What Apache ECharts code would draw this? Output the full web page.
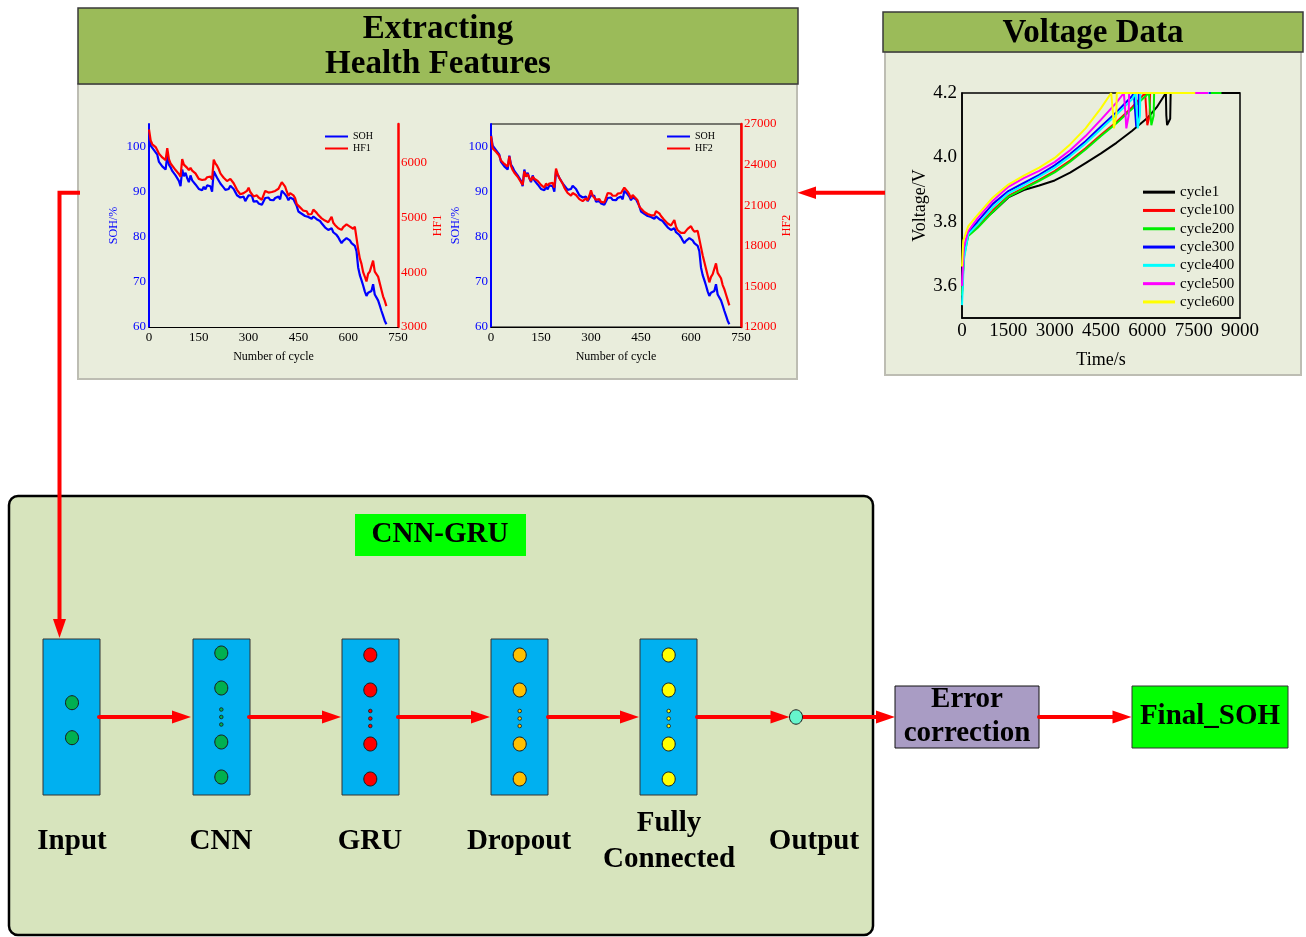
<!DOCTYPE html>
<html>
<head>
<meta charset="utf-8">
<script src="https://cdn.jsdelivr.net/npm/echarts/dist/echarts.min.js"></script>
<style>
html,body{margin:0;padding:0;background:#ffffff;}
#chart{width:1306px;height:937px;}
</style>
</head>
<body>
<div id="chart"></div>
<script>
// ---- cycle-ageing data (one sample every 5 cycles) ----
const cycleStep = 5;
const sohValues = [
  102.5,100.2,99.8,99.2,99.4,98.2,96.6,96.2,95.6,95.9,
  94.9,98.0,96.0,95.4,94.6,94.2,93.6,93.2,92.4,91.2,
  94.9,93.4,94.2,93.0,92.1,93.6,92.5,92.3,91.6,91.9,
  90.6,90.9,90.3,91.1,90.5,91.4,91.6,91.2,90.0,94.5,
  94.2,93.1,92.9,91.8,91.4,90.9,90.4,90.2,90.6,91.3,
  91.0,90.6,89.9,89.2,89.5,88.7,88.4,88.9,87.9,88.3,
  89.2,88.9,89.1,87.8,87.6,87.9,87.4,87.7,87.1,87.5,
  88.6,88.4,88.7,88.2,88.5,88.1,88.6,88.4,88.9,88.3,
  90.2,89.8,89.4,88.9,88.1,88.7,88.6,88.3,88.0,86.8,
  85.6,85.9,85.1,85.4,84.6,84.9,84.4,84.6,84.0,84.5,
  84.6,83.9,83.6,83.5,83.0,82.6,82.1,81.9,81.5,81.6,
  81.9,81.0,80.6,80.4,79.9,79.2,78.6,79.1,79.5,79.7,
  79.7,79.2,78.6,78.2,78.0,76.8,73.2,71.5,70.4,69.2,
  67.9,66.9,67.6,67.8,68.0,69.5,67.2,66.8,65.9,64.8,
  63.6,62.5,61.4,60.6
];
const hf1Values = [
  6600,6400,6330,6310,6280,6220,6160,6130,6090,6110,
  6040,6260,6060,5980,5950,5900,5860,5830,5790,5740,
  6060,5960,5990,5900,5860,5900,5850,5830,5800,5810,
  5700,5720,5680,5710,5690,5730,5750,5740,5690,6050,
  5980,5940,5880,5800,5760,5720,5690,5660,5650,5700,
  5680,5620,5560,5500,5470,5420,5400,5440,5420,5480,
  5540,5460,5430,5380,5350,5400,5360,5380,5320,5300,
  5480,5470,5450,5430,5460,5440,5480,5470,5520,5500,
  5640,5600,5560,5470,5390,5440,5450,5400,5350,5240,
  5220,5180,5150,5120,5090,5110,5050,5080,5060,5140,
  5150,5080,5040,5010,4980,4950,4940,4930,4910,4960,
  5010,4900,4860,4830,4800,4790,4770,4820,4840,4870,
  4880,4830,4810,4790,4830,4800,4420,4250,4150,4000,
  3920,3830,3970,4010,4020,4210,4010,4000,3920,3800,
  3680,3560,3480,3380
];
const hf2Values = [
  26100,25200,25100,24950,24850,24650,24300,24200,24050,24100,
  23850,24600,23900,23600,23400,23300,23100,22900,22700,22500,
  23500,23100,23300,23000,22800,23100,22950,22900,22800,22850,
  22500,22600,22300,22600,22450,22600,22700,22650,22300,23700,
  23300,23000,22900,22600,22300,22100,21900,21800,21700,21900,
  21850,21750,21600,21450,21400,21300,21250,21500,21350,21700,
  22100,21700,21600,21400,21300,21450,21250,21350,21200,21150,
  21900,21800,21850,21700,21800,21700,21850,21800,21900,21850,
  22300,22350,22000,21800,21500,21750,21700,21500,21350,20900,
  20750,20700,20500,20450,20350,20400,20250,20300,20250,20550,
  20650,20400,20200,20050,19900,19800,19650,19550,19500,19700,
  19900,19400,19150,19050,18950,18900,18950,19100,19250,19350,
  19450,19200,19050,18950,19100,19000,17900,17300,16800,16300,
  15800,15300,15700,15900,16000,16700,16000,15900,15600,15100,
  14800,14400,14000,13600
];

// ---- charging voltage curves, [time (s), voltage (V)] ----
const vCycle1 = [[0,3.58],[60,3.70],[200,3.76],[500,3.79],[1000,3.83],[1500,3.875],[2000,3.898],[2500,3.912],[3000,3.928],[3500,3.952],[4000,3.982],[4500,4.012],[5000,4.045],[5500,4.082],[6000,4.122],[6300,4.155],[6600,4.2],[6615,4.13],[6640,4.10],[6700,4.10],[6740,4.12],[6755,4.2],[9000,4.2]];
const vCycle100 = [[0,3.58],[60,3.70],[200,3.76],[500,3.785],[1000,3.835],[1500,3.88],[2000,3.905],[2500,3.93],[3000,3.957],[3500,3.99],[4000,4.028],[4500,4.07],[5000,4.11],[5500,4.155],[5930,4.2],[5960,4.2],[5975,4.13],[6000,4.10],[6050,4.10],[6075,4.13],[6090,4.2],[8300,4.2]];
const vCycle200 = [[0,3.57],[60,3.69],[200,3.755],[500,3.78],[1000,3.83],[1500,3.877],[2000,3.902],[2500,3.927],[3000,3.953],[3500,3.986],[4000,4.024],[4500,4.066],[5000,4.106],[5500,4.15],[6050,4.2],[6090,4.2],[6105,4.13],[6130,4.10],[6180,4.10],[6205,4.13],[6220,4.2],[8400,4.2]];
const vCycle300 = [[0,3.60],[60,3.71],[200,3.765],[500,3.80],[1000,3.855],[1500,3.895],[2000,3.92],[2500,3.945],[3000,3.975],[3500,4.01],[4000,4.05],[4500,4.096],[5000,4.14],[5500,4.19],[5560,4.2],[5600,4.2],[5615,4.13],[5640,4.095],[5690,4.095],[5710,4.13],[5725,4.2],[8050,4.2]];
const vCycle400 = [[0,3.54],[60,3.68],[200,3.76],[500,3.79],[1000,3.845],[1500,3.888],[2000,3.913],[2500,3.94],[3000,3.968],[3500,4.003],[4000,4.043],[4500,4.088],[5000,4.133],[5500,4.18],[5620,4.2],[5650,4.2],[5665,4.13],[5690,4.09],[5740,4.09],[5760,4.13],[5775,4.2],[8000,4.2]];
const vCycle500 = [[0,3.60],[60,3.72],[200,3.77],[500,3.81],[1000,3.865],[1500,3.908],[2000,3.935],[2500,3.958],[3000,3.985],[3500,4.022],[4000,4.066],[4500,4.117],[5000,4.17],[5240,4.2],[5280,4.2],[5295,4.13],[5320,4.09],[5370,4.09],[5395,4.13],[5410,4.2],[7980,4.2]];
const vCycle600 = [[0,3.66],[40,3.74],[200,3.785],[500,3.82],[1000,3.875],[1500,3.915],[2000,3.943],[2500,3.968],[3000,3.998],[3500,4.04],[4000,4.09],[4500,4.153],[4830,4.2],[4880,4.2],[4895,4.13],[4920,4.09],[4970,4.09],[4995,4.13],[5010,4.2],[7550,4.2]];
const voltageNames = ['cycle1','cycle100','cycle200','cycle300','cycle400','cycle500','cycle600'];
const voltageCurves = [vCycle1, vCycle100, vCycle200, vCycle300, vCycle400, vCycle500, vCycle600];
const voltageColors = ['#000000','#FF0000','#00EE00','#0000FF','#00FFFF','#FF00FF','#FFFF00'];

// network layer labels
const layerNames = ['Input', 'CNN', 'GRU', 'Dropout', 'Fully', 'Output'];

// ---------------------------------------------------------------
const SERIF = '"Liberation Serif","Times New Roman",serif';
const pairs = (vals) => vals.map((v, i) => [i * cycleStep, v]);
const plain = (v) => String(v);

function cycleXAxis(gridIndex) {
  return {
    type: 'value', gridIndex, min: 0, max: 750, interval: 150,
    name: 'Number of cycle', nameLocation: 'middle', nameGap: 24,
    nameTextStyle: { fontFamily: SERIF, fontSize: 12, color: '#000' },
    axisLine: { lineStyle: { color: '#000', width: 1 } },
    axisTick: { show: false },
    axisLabel: { fontFamily: SERIF, fontSize: 13, color: '#000', margin: 4, formatter: plain },
    splitLine: { show: false }
  };
}
function sohYAxis(gridIndex) {
  return {
    type: 'value', gridIndex, position: 'left', min: 60, max: 105, interval: 10,
    name: 'SOH/%', nameLocation: 'middle', nameGap: 29, nameRotate: 90,
    nameTextStyle: { fontFamily: SERIF, fontSize: 12, color: '#0000FF' },
    axisLine: { show: true, lineStyle: { color: '#0000FF', width: 2 } },
    axisTick: { show: false },
    axisLabel: { fontFamily: SERIF, fontSize: 13, color: '#0000FF', margin: 3, showMaxLabel: false, formatter: plain },
    splitLine: { show: false }
  };
}
function hfYAxis(gridIndex, name, min, max, interval, gap, showMax) {
  return {
    type: 'value', gridIndex, position: 'right', min, max, interval,
    name, nameLocation: 'middle', nameGap: gap, nameRotate: 90,
    nameTextStyle: { fontFamily: SERIF, fontSize: 12, color: '#FF0000' },
    axisLine: { show: true, lineStyle: { color: '#FF0000', width: 2.5 } },
    axisTick: { show: false },
    axisLabel: { fontFamily: SERIF, fontSize: 13, color: '#FF0000', margin: 3, showMaxLabel: showMax, formatter: plain },
    splitLine: { show: false }
  };
}

// ---- diagram helpers ----
const RED = '#FF0000';
function arrowRight(x1, x2, y) {
  return [
    { type: 'line', shape: { x1, y1: y, x2: x2 - 16, y2: y },
      style: { stroke: RED, lineWidth: 4, lineCap: 'round' }, z: 20 },
    { type: 'polygon', shape: { points: [[x2 - 19, y - 6.5], [x2, y], [x2 - 19, y + 6.5]] },
      style: { fill: RED }, z: 20 }
  ];
}
function text(x, y, str, size, extra) {
  return Object.assign({
    type: 'text', z: 30,
    style: { x, y, text: str, fill: '#000', textAlign: 'center', textVerticalAlign: 'middle',
      font: 'bold ' + size + 'px ' + SERIF }
  }, extra || {});
}
function layerBox(x, nodeYs, dotYs, fill, cx) {
  const els = [{ type: 'rect', shape: { x, y: 639, width: 57, height: 156 },
    style: { fill: '#00B0F0', stroke: '#333333', lineWidth: 1 }, z: 10 }];
  nodeYs.forEach(cy => els.push({ type: 'ellipse', shape: { cx, cy, rx: 6.5, ry: 7 },
    style: { fill, stroke: '#1a1a1a', lineWidth: 1 }, z: 11 }));
  dotYs.forEach(cy => els.push({ type: 'circle', shape: { cx, cy, r: 1.8 },
    style: { fill, stroke: '#1a1a1a', lineWidth: 0.8 }, z: 11 }));
  return els;
}

const graphics = [
  // panel backgrounds
  { type: 'rect', shape: { x: 78, y: 84, width: 719, height: 295 },
    style: { fill: '#E9EDDC', stroke: '#BDBDB3', lineWidth: 2 }, z: -5 },
  { type: 'rect', shape: { x: 78, y: 8, width: 720, height: 76 },
    style: { fill: '#9BBB59', stroke: '#3A3A3A', lineWidth: 1.5 }, z: -4 },
  { type: 'rect', shape: { x: 885, y: 52, width: 416, height: 323 },
    style: { fill: '#E9EDDC', stroke: '#BDBDB3', lineWidth: 2 }, z: -5 },
  { type: 'rect', shape: { x: 883, y: 12, width: 420, height: 40 },
    style: { fill: '#9BBB59', stroke: '#3A3A3A', lineWidth: 1.5 }, z: -4 },
  text(438, 29, 'Extracting', 33),
  text(438, 64, 'Health Features', 33),
  text(1093, 33, 'Voltage Data', 33),

  // voltage panel -> feature panel
  { type: 'line', shape: { x1: 885, y1: 192.7, x2: 812, y2: 192.7 },
    style: { stroke: RED, lineWidth: 4 }, z: 20 },
  { type: 'polygon', shape: { points: [[816, 186.5], [797.5, 192.7], [816, 199]] },
    style: { fill: RED }, z: 20 },

  // network block
  { type: 'rect', shape: { x: 9, y: 496, width: 864, height: 439, r: 9 },
    style: { fill: '#D7E4BD', stroke: '#000000', lineWidth: 2.5 }, z: -5 },
  { type: 'rect', shape: { x: 355, y: 514, width: 171, height: 42 },
    style: { fill: '#00FF00' }, z: 5 },
  text(440, 535, 'CNN-GRU', 29),

  // feature panel -> input layer
  { type: 'polyline', shape: { points: [[80, 192.7], [59.5, 192.7], [59.5, 622]] },
    style: { stroke: RED, lineWidth: 4, fill: null, lineJoin: 'miter' }, z: 20 },
  { type: 'polygon', shape: { points: [[53, 619], [59.5, 638], [66, 619]] },
    style: { fill: RED }, z: 20 },

  ...layerBox(43, [702.7, 737.7], [], '#00B050', 72),
  ...layerBox(193, [653, 688, 742, 777], [709.5, 717, 724.5], '#00B050', 221.3),
  ...layerBox(342, [655, 690, 744, 779], [711, 718.5, 726], '#FF0000', 370.3),
  ...layerBox(491, [655, 690, 744, 779], [711, 718.5, 726], '#FFC000', 519.7),
  ...layerBox(640, [655, 690, 744, 779], [711, 718.5, 726], '#FFFF00', 668.7),

  ...arrowRight(99, 191, 717),
  ...arrowRight(249, 341, 717),
  ...arrowRight(398, 490, 717),
  ...arrowRight(548, 639, 717),
  ...arrowRight(697, 789.5, 717),
  ...arrowRight(803, 895, 717),
  ...arrowRight(1039, 1131.5, 717),

  { type: 'ellipse', shape: { cx: 796, cy: 717, rx: 6.5, ry: 7.2 },
    style: { fill: '#66F5CC', stroke: '#1a1a1a', lineWidth: 1 }, z: 21 },

  { type: 'rect', shape: { x: 895, y: 686, width: 144, height: 62 },
    style: { fill: '#A99CC4', stroke: '#111111', lineWidth: 1 }, z: 10 },
  text(967, 700, 'Error', 29),
  text(967, 734, 'correction', 29),
  { type: 'rect', shape: { x: 1132, y: 686, width: 156, height: 62 },
    style: { fill: '#00FF00', stroke: '#333333', lineWidth: 1 }, z: 10 },
  text(1210, 717, 'Final_SOH', 29),

  text(72, 842, layerNames[0], 29),
  text(221, 842, layerNames[1], 29),
  text(370, 842, layerNames[2], 29),
  text(519, 842, layerNames[3], 29),
  text(669, 824, layerNames[4], 29),
  text(669, 860, 'Connected', 29),
  text(814, 842, layerNames[5], 29)
];

const chart = echarts.init(document.getElementById('chart'), null, { renderer: 'canvas' });

const voltageSeries = voltageCurves.map((d, i) => ({
  name: voltageNames[i], type: 'line', xAxisIndex: 2, yAxisIndex: 4,
  data: d, showSymbol: false, symbol: 'none',
  lineStyle: { color: voltageColors[i], width: 2 }, itemStyle: { color: voltageColors[i] },
  z: 3 + i
}));

chart.setOption({
  animation: false,
  backgroundColor: 'transparent',
  textStyle: { fontFamily: SERIF },
  grid: [
    { left: 149, top: 124, width: 249, height: 203, show: false },
    { left: 491, top: 124, width: 250, height: 203, show: true, borderColor: '#000', borderWidth: 1, backgroundColor: 'transparent' },
    { left: 962, top: 93, width: 278, height: 225, show: true, borderColor: '#000', borderWidth: 1.5, backgroundColor: 'transparent' }
  ],
  legend: [
    { data: ['SOH', 'HF1'], orient: 'vertical', left: 325, top: 130.5, itemGap: 0, padding: 0,
      icon: 'rect', itemWidth: 23, itemHeight: 2, itemStyle: { borderWidth: 0 },
      textStyle: { fontFamily: SERIF, fontSize: 10, color: '#000', lineHeight: 12 }, selectedMode: false },
    { data: ['SOH', 'HF2'], orient: 'vertical', left: 667, top: 130.5, itemGap: 0, padding: 0,
      icon: 'rect', itemWidth: 23, itemHeight: 2, itemStyle: { borderWidth: 0 },
      textStyle: { fontFamily: SERIF, fontSize: 10, color: '#000', lineHeight: 12 }, selectedMode: false },
    { data: voltageNames, orient: 'vertical', left: 1143, top: 183, itemGap: 0, padding: 0,
      icon: 'rect', itemWidth: 32, itemHeight: 3, itemStyle: { borderWidth: 0 },
      textStyle: { fontFamily: SERIF, fontSize: 15, color: '#000', lineHeight: 18.3 }, selectedMode: false }
  ],
  xAxis: [
    cycleXAxis(0),
    cycleXAxis(1),
    { type: 'value', gridIndex: 2, min: 0, max: 9000, interval: 1500,
      name: 'Time/s', nameLocation: 'middle', nameGap: 33,
      nameTextStyle: { fontFamily: SERIF, fontSize: 18, color: '#000' },
      axisLine: { lineStyle: { color: '#000', width: 1.5 } },
      axisTick: { show: false },
      axisLabel: { fontFamily: SERIF, fontSize: 19, color: '#000', margin: 4, formatter: plain },
      splitLine: { show: false } }
  ],
  yAxis: [
    sohYAxis(0),
    hfYAxis(0, 'HF1', 3000, 6700, 1000, 34, false),
    sohYAxis(1),
    hfYAxis(1, 'HF2', 12000, 27000, 3000, 40, true),
    { type: 'value', gridIndex: 2, min: 3.5, max: 4.2, interval: 0.1,
      name: 'Voltage/V', nameLocation: 'middle', nameGap: 33, nameRotate: 90,
      nameTextStyle: { fontFamily: SERIF, fontSize: 18, color: '#000' },
      axisLine: { show: true, lineStyle: { color: '#000', width: 1.5 } },
      axisTick: { show: false },
      axisLabel: { fontFamily: SERIF, fontSize: 19, color: '#000', margin: 5,
        formatter: (v) => { const k = Math.round(v * 10); return k % 2 === 0 ? (k / 10).toFixed(1) : ''; } },
      splitLine: { show: false } }
  ],
  series: [
    { name: 'SOH', type: 'line', xAxisIndex: 0, yAxisIndex: 0, data: pairs(sohValues),
      showSymbol: false, symbol: 'none', lineStyle: { color: '#0000FF', width: 2.2 }, itemStyle: { color: '#0000FF' } },
    { name: 'HF1', type: 'line', xAxisIndex: 0, yAxisIndex: 1, data: pairs(hf1Values),
      showSymbol: false, symbol: 'none', lineStyle: { color: '#FF0000', width: 2.2 }, itemStyle: { color: '#FF0000' } },
    { name: 'SOH', type: 'line', xAxisIndex: 1, yAxisIndex: 2, data: pairs(sohValues),
      showSymbol: false, symbol: 'none', lineStyle: { color: '#0000FF', width: 2.2 }, itemStyle: { color: '#0000FF' } },
    { name: 'HF2', type: 'line', xAxisIndex: 1, yAxisIndex: 3, data: pairs(hf2Values),
      showSymbol: false, symbol: 'none', lineStyle: { color: '#FF0000', width: 2.2 }, itemStyle: { color: '#FF0000' } },
    ...voltageSeries
  ],
  graphic: { elements: graphics }
});
</script>
</body>
</html>
